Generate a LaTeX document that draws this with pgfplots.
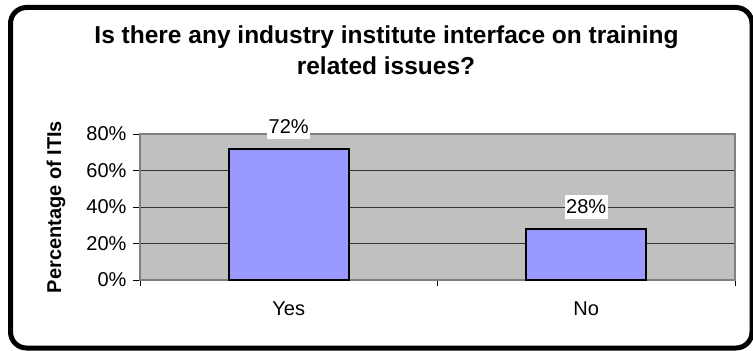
\documentclass[border=0pt]{standalone}
\usepackage{pgfplots}
\pgfplotsset{compat=1.18}
\usepackage{fontspec}
\setmainfont{Liberation Sans}
\definecolor{barfill}{HTML}{9999FF}
\definecolor{plotbg}{HTML}{C0C0C0}
\definecolor{axgray}{HTML}{808080}
\begin{document}
\begin{tikzpicture}[x=1bp,y=1bp]
\useasboundingbox (0,0) rectangle (753,350);
\draw[line width=5bp, rounded corners=16bp] (10.5,342.5) rectangle (752,2);
\node[font=\bfseries\fontsize{24.5bp}{28bp}\selectfont, anchor=base] at (386.5,307) {Is there any industry institute interface on training};
\node[font=\bfseries\fontsize{24.5bp}{28bp}\selectfont, anchor=base] at (386,276) {related issues?};
\begin{axis}[
  at={(140bp,70bp)}, anchor=south west,
  scale only axis, width=595bp, height=146bp,
  xmin=-0.5, xmax=1.5, ymin=0, ymax=80,
  axis background/.style={fill=plotbg},
  axis line style={axgray, line width=1.5bp},
  xtick={0,1}, xticklabels={Yes,No},
  minor xtick={-0.5,0.5,1.5},
  major x tick style={draw=none},
  minor x tick style={black, line width=0.8bp},
  minor tick length=6bp,
  ytick={0,20,40,60,80},
  yticklabel={\pgfmathprintnumber{\tick}\%},
  y tick style={black, line width=0.8bp},
  major tick length=7bp,
  tick align=outside,
  tick pos=left,
  ymajorgrids,
  grid style={black!80, line width=0.8bp},
  /pgf/number format/assume math mode=true,
  tick label style={font=\fontsize{20bp}{24bp}\selectfont},
  xticklabel style={anchor=base, yshift=-28bp},
  yticklabel style={xshift=-3bp},
  ylabel={\bfseries Percentage of ITIs},
  every axis y label/.style={at={(axis description cs:-0.141,0.5)}, rotate=90, anchor=center, font=\fontsize{20bp}{24bp}\selectfont},
  clip=false,
]
\addplot[ybar, bar width=120bp, fill=barfill, draw=black, line width=1.8bp,
  nodes near coords={\pgfmathprintnumber{\pgfplotspointmeta}\%},
  nodes near coords style={fill=white, inner xsep=1.5bp, inner ysep=5bp, font=\fontsize{20bp}{24bp}\selectfont, anchor=base, yshift=15bp},
  point meta=y]
  coordinates {(0,72) (1,28)};
\end{axis}
\end{tikzpicture}
\end{document}
